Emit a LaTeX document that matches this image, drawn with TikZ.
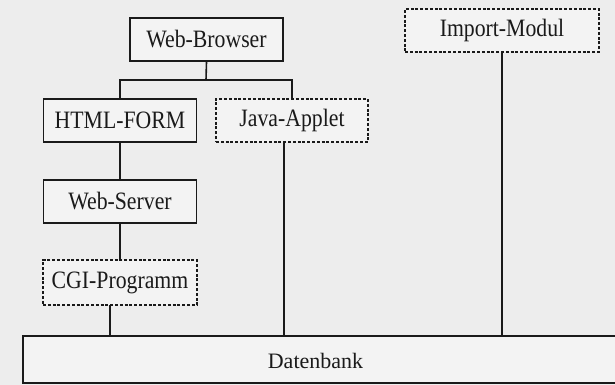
\documentclass[tikz,border=0pt]{standalone}
\usepackage{fontspec}
\setmainfont{Liberation Serif}
\newfontfamily\boxfont[FakeStretch=0.87]{Liberation Serif}
\definecolor{bgc}{HTML}{EDEDED}
\definecolor{boxc}{HTML}{F3F3F3}
\definecolor{inkc}{HTML}{1A1A1A}
\begin{document}
\begin{tikzpicture}[x=1pt,y=-1pt,
  base/.style={draw=inkc,line width=1.6pt,fill=boxc,inner sep=0pt,text=inkc,font=\boxfont\fontsize{25}{27}\selectfont},
  solidbox/.style={base},
  dashbox/.style={base,dash pattern=on 3pt off 1.8pt},
  link/.style={draw=inkc,line width=1.6pt}]
\fill[bgc] (0,0) rectangle (615,385);
\useasboundingbox (0,0) rectangle (615,385);
\node[solidbox,minimum width=153pt,minimum height=43pt] (wb) at (206.5,39.5) {Web-Browser};
\node[solidbox,minimum width=153pt,minimum height=43pt] (hf) at (120,120.5) {HTML-FORM};
\node[dashbox,minimum width=152pt,minimum height=43pt] (ja) at (292,120.5) {Java-Applet};
\node[solidbox,minimum width=153pt,minimum height=43pt] (ws) at (120,201.5) {Web-Server};
\node[dashbox,minimum width=154pt,minimum height=45pt] (cgi) at (120,282.5) {CGI-Programm};
\node[dashbox,minimum width=194pt,minimum height=43pt] (im) at (502,30.5) {Import-Modul};
\node[solidbox,minimum width=602pt,minimum height=47pt] (db) at (324,359.5) {};
\node[text=inkc,font=\fontsize{22}{24}\selectfont,inner sep=0pt,anchor=base] (dbt) at (315.5,368) {Datenbank};
\coordinate (j) at (206,80);
\coordinate (cgiout) at (110,305);
\coordinate (jaout) at (284,142);
\draw[link] (wb.south) -- (j);
\draw[link] (hf.north) |- (j) -| (ja.north);
\draw[link] (hf.south) -- (ws.north);
\draw[link] (ws.south) -- (cgi.north);
\draw[link] (cgiout) -- (cgiout |- db.north);
\draw[link] (jaout) -- (jaout |- db.north);
\draw[link] (im.south) -- (im.south |- db.north);
\end{tikzpicture}
\end{document}
